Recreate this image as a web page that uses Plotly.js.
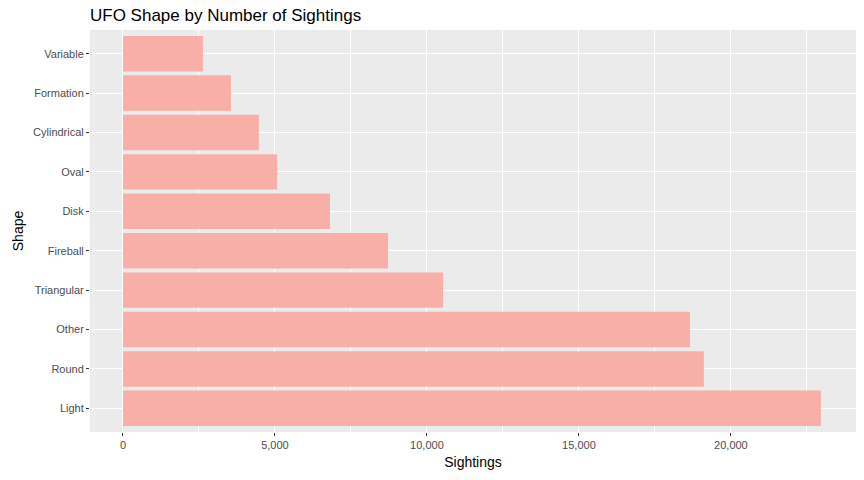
<!DOCTYPE html>
<html>
<head>
<meta charset="utf-8">
<script src="https://cdn.plot.ly/plotly-3.0.1.min.js"></script>
<style>body{margin:0;background:#fff}</style>
</head>
<body>
<div id="chart" style="width:864px;height:480px"></div>
<script>
var shapes = ['Light', 'Round', 'Other', 'Triangular', 'Fireball', 'Disk', 'Oval', 'Cylindrical', 'Formation', 'Variable'];
var sightings = [22960, 19110, 18650, 10530, 8720, 6810, 5070, 4470, 3550, 2630];
var xTicks = [0, 5000, 10000, 15000, 20000];
var xTickText = ['0', '5,000', '10,000', '15,000', '20,000'];

var data = [{
  type: 'bar',
  orientation: 'h',
  x: sightings,
  y: shapes,
  width: 0.9,
  marker: {color: '#F8AFA8'},
  hoverinfo: 'x+y'
}];

var layout = {
  width: 864, height: 480,
  margin: {l: 90, r: 8, t: 30, b: 48},
  paper_bgcolor: '#fff',
  plot_bgcolor: '#EBEBEB',
  font: {family: 'Liberation Sans, Arial, sans-serif', color: '#4D4D4D'},
  title: {text: 'UFO Shape by Number of Sightings', x: 0, xref: 'paper', xanchor: 'left', y: 0.968, yanchor: 'middle',
          font: {size: 17, color: '#000'}},
  showlegend: false,
  bargap: 0.1,
  xaxis: {
    range: [-1085, 24115], zeroline: false,
    tickvals: xTicks, ticktext: xTickText,
    tickfont: {size: 11, color: '#4D4D4D'},
    ticks: 'outside', ticklen: 3, tickcolor: '#333',
    gridcolor: '#fff', gridwidth: 1.2,
    minor: {dtick: 2500, tick0: 0, showgrid: true, gridcolor: '#fff', gridwidth: 0.5},
    title: {text: 'Sightings', font: {size: 14, color: '#000'}, standoff: 6}
  },
  yaxis: {
    range: [-0.6, 9.6],
    categoryorder: 'array', categoryarray: shapes,
    tickfont: {size: 11, color: '#4D4D4D'},
    ticks: 'outside', ticklen: 3, tickcolor: '#333',
    gridcolor: '#fff', gridwidth: 1.2,
    title: {text: 'Shape', font: {size: 14, color: '#000'}, standoff: 6}
  }
};

Plotly.newPlot('chart', data, layout, {displayModeBar: false});
</script>
</body>
</html>
